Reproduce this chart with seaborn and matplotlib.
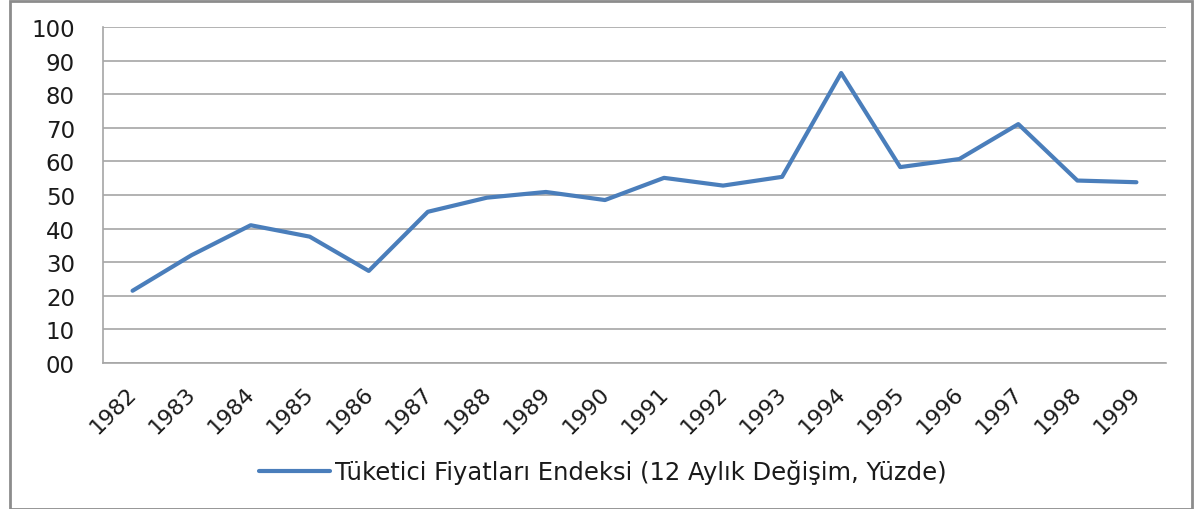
from matplotlib import pyplot as plt
from matplotlib.patches import Rectangle
from matplotlib.transforms import ScaledTranslation
import seaborn as sns
import pandas as pd
import numpy as np

sns.set_style('white')
plt.rcParams['font.family'] = ['DejaVu Sans']

years = [str(y) for y in range(1982, 2000)]
tufe = [21.5, 32.1, 41.0, 37.6, 27.4, 45.0, 49.2, 50.9, 48.5, 55.1,
        52.8, 55.4, 86.3, 58.3, 60.7, 71.1, 54.3, 53.8]
series_name = 'Tüketici Fiyatları Endeksi (12 Aylık Değişim, Yüzde)'
y_ticks = list(range(0, 101, 10))
y_labels = ['00'] + [str(v) for v in y_ticks[1:]]

line_color = '#4A7EBB'
grid_color = '#A6A6A6'
text_color = '#1a1a1a'

df = pd.DataFrame({'year': years, 'value': tufe})

fig = plt.figure(figsize=(11.94, 5.10), dpi=100)
ax = fig.add_axes([0.0863, 0.2863, 0.8902, 0.6588])

sns.lineplot(x='year', y='value', data=df, ax=ax, color=line_color,
             linewidth=3.0, label=series_name, legend=False)

ax.set_xlim(-0.5, len(years) - 0.5)
ax.set_ylim(0, 100)
ax.set_yticks(y_ticks)
ax.set_yticklabels(y_labels, fontsize=16.5, color=text_color)
ax.set_xticks(range(len(years)))
ax.set_xticklabels(years, fontsize=16, color=text_color, rotation=45,
                   ha='right', va='top', rotation_mode='anchor')
ax.set_xticks(np.arange(-0.5, len(years)), minor=True)
ax.tick_params(axis='x', which='major', length=0, pad=14)
ax.tick_params(axis='x', which='minor', length=4.5, width=1.2, color=grid_color, direction='out')
ax.tick_params(axis='y', length=7.2, width=1.2, color=grid_color, direction='out', pad=13)
ax.set_xlabel('')
ax.set_ylabel('')

# shift the rotated year labels a little to the left, like the original
shift = ScaledTranslation(-6 / 100, 0, fig.dpi_scale_trans)
for lbl in ax.get_xticklabels():
    lbl.set_transform(lbl.get_transform() + shift)

ax.grid(axis='y', color=grid_color, linewidth=1.2)
ax.set_axisbelow(True)
for side in ['top', 'right']:
    ax.spines[side].set_visible(False)
for side in ['left', 'bottom']:
    ax.spines[side].set_color(grid_color)
    ax.spines[side].set_linewidth(1.2)

handles, labels = ax.get_legend_handles_labels()
leg = fig.legend(handles, labels, loc='center', bbox_to_anchor=(0.505, 0.073),
                 frameon=False, fontsize=17.5, handlelength=2.9, handletextpad=0.2)
for t in leg.get_texts():
    t.set_color(text_color)

fig.add_artist(Rectangle((0.008, 0.0), 0.99, 0.997, transform=fig.transFigure,
                         fill=False, edgecolor='#8C8C8C', linewidth=2))

fig.savefig('out.png', dpi=100)
